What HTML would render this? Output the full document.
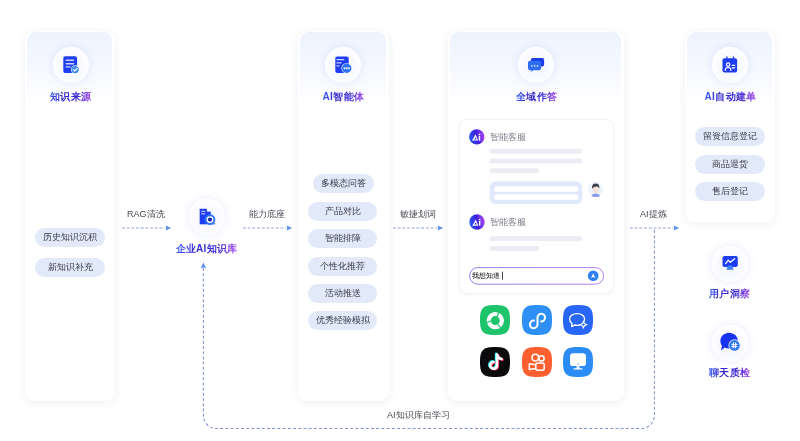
<!DOCTYPE html>
<html><head><meta charset="utf-8">
<style>
*{box-sizing:border-box;margin:0;padding:0}
html,body{width:800px;height:441px;background:#fff;overflow:hidden}
body{position:relative;font-family:"Liberation Sans",sans-serif;will-change:transform}
.card{position:absolute;border-radius:10px;border:solid #fff;border-width:1.2px 3px 3px 2.5px;background:linear-gradient(180deg,#eef3fe 0px,#f4f7ff 30px,#fbfcff 58px,#fff 72px) padding-box;box-shadow:0 2px 10px rgba(30,40,80,0.07)}
.circ{position:absolute;width:36px;height:36px;border-radius:50%;background:radial-gradient(circle at 50% 55%,#f3f5ff 0%,#f9faff 45%,#fff 72%);box-shadow:0 0 7px 2px rgba(125,145,235,0.12)}
.circ svg{position:absolute;left:0;top:0}
.title{position:absolute;font-size:10px;letter-spacing:0.25px;font-weight:bold;white-space:nowrap;background:linear-gradient(90deg,#3a5ef0 0%,#3429d0 28%,#3a2bd2 66%,#a545f0 100%);-webkit-background-clip:text;background-clip:text;color:transparent;line-height:12px}
.pill{position:absolute;height:19px;border-radius:10px;background:#e2eafa;font-size:9px;color:#353740;text-align:center;line-height:19px;white-space:nowrap}
.lbl{position:absolute;font-size:9px;color:#474a53;white-space:nowrap;line-height:11px}
svg{overflow:visible}
.app{position:absolute;width:30px;height:30px}
.app svg{position:absolute;left:0;top:0}
</style></head><body>

<!-- connectors -->
<svg width="800" height="441" style="position:absolute;left:0;top:0">
  <g stroke="#95a2dc" stroke-width="1.1" stroke-dasharray="2.8 1.9" fill="none">
    <line x1="122" y1="228" x2="165" y2="228"/>
    <line x1="243" y1="228" x2="286" y2="228"/>
    <line x1="393" y1="228" x2="437" y2="228"/>
    <line x1="630" y1="228" x2="673" y2="228"/>
  </g>
  <path d="M203.4 268 V415.5 A13 13 0 0 0 216.4 428.5 H641.4 A13 13 0 0 0 654.4 415.5 V229" stroke="#8793d6" stroke-width="1.05" stroke-dasharray="3 2.2" fill="none"/>
  <g fill="#5a8cf2">
    <path d="M165.7 225.5 L171.1 228 L165.7 230.5 L166.2 228 Z"/>
    <path d="M286.7 225.5 L292.1 228 L286.7 230.5 L287.2 228 Z"/>
    <path d="M437.7 225.5 L443.1 228 L437.7 230.5 L438.2 228 Z"/>
    <path d="M673.7 225.5 L679.1 228 L673.7 230.5 L674.2 228 Z"/>
    <path d="M200.6 268.5 L203.4 262.6 L206.2 268.5 L203.4 267.2 Z"/>
  </g>
</svg>

<!-- Card 1 -->
<div class="card" style="left:25.3px;top:31.3px;width:89.7px;height:369.7px"></div>
<div class="circ" style="left:52.5px;top:46.5px"><svg width="36" height="36" viewBox="0 0 36 36">
<rect x="10.3" y="9.3" width="13.8" height="16.8" rx="2.2" fill="#1e3df0"/>
<g stroke="#c9d2ff" stroke-width="1.4" stroke-linecap="round"><line x1="13.2" y1="13.2" x2="20.6" y2="13.2"/><line x1="13.2" y1="16.7" x2="20.6" y2="16.7"/><line x1="13.2" y1="19.9" x2="17" y2="19.9"/></g>
<circle cx="22.2" cy="22.6" r="4.3" fill="#fff" opacity="0.9"/><circle cx="22.2" cy="22.6" r="3.6" fill="#3d86f6"/>
<path d="M20.4 22.6 L21.8 24 L24.2 21.4" stroke="#fff" stroke-width="1.2" fill="none" stroke-linecap="round" stroke-linejoin="round"/>
</svg></div>
<div class="title" style="left:50px;top:90.7px">知识来源</div>
<div class="pill" style="left:35px;top:228px;width:70px">历史知识沉积</div>
<div class="pill" style="left:35px;top:257.5px;width:70px">新知识补充</div>

<!-- Card 2 -->
<div class="card" style="left:297.6px;top:31.3px;width:91px;height:369.7px"></div>
<div class="circ" style="left:324.5px;top:46.5px"><svg width="36" height="36" viewBox="0 0 36 36">
<rect x="10.3" y="9.5" width="13.4" height="16.4" rx="2" fill="#1e3df0"/>
<g stroke="#c9d2ff" stroke-width="1.3" stroke-linecap="round"><line x1="12" y1="12.7" x2="18.8" y2="12.7"/><line x1="12" y1="15.9" x2="16" y2="15.9"/><line x1="12" y1="18.9" x2="14" y2="18.9"/></g>
<circle cx="21.7" cy="21.3" r="5.4" fill="#fff" opacity="0.85"/><circle cx="21.7" cy="21.3" r="4.7" fill="#2f72f6"/>
<g fill="#fff"><rect x="18.7" y="20.4" width="1.6" height="1.8"/><rect x="21" y="20.4" width="1.6" height="1.8"/><rect x="23.3" y="20.4" width="1.6" height="1.8"/></g>
</svg></div>
<div class="title" style="left:322.5px;top:90.7px">A<span style="letter-spacing:0.7px">I</span>智能体</div>
<div class="pill" style="left:312.5px;top:174px;width:61px">多模态问答</div>
<div class="pill" style="left:308px;top:201.5px;width:69px">产品对比</div>
<div class="pill" style="left:308px;top:229px;width:69px">智能排障</div>
<div class="pill" style="left:308px;top:256.5px;width:69px">个性化推荐</div>
<div class="pill" style="left:308px;top:284px;width:69px">活动推送</div>
<div class="pill" style="left:308px;top:311px;width:69px">优秀经验模拟</div>

<!-- Card 3 -->
<div class="card" style="left:448.2px;top:31.3px;width:176.1px;height:369.7px"></div>
<div class="circ" style="left:518px;top:46.5px"><svg width="36" height="36" viewBox="0 0 36 36">
<rect x="12.9" y="10.9" width="13.2" height="8.6" rx="2" fill="#1a3ae6"/>
<path d="M12 13.8 H21 A2 2 0 0 1 23 15.8 V21.3 A2 2 0 0 1 21 23.3 H15.2 L13.2 25.1 V23.3 H12 A2 2 0 0 1 10 21.3 V15.8 A2 2 0 0 1 12 13.8 Z" fill="#2e6ef2"/>
<g fill="#e6efff"><circle cx="13.8" cy="18.9" r="0.8"/><circle cx="16.6" cy="18.9" r="0.8"/><circle cx="19.4" cy="18.9" r="0.8"/></g>
</svg></div>
<div class="title" style="left:516px;top:91.2px">全域作答</div>

<!-- chat panel -->
<div style="position:absolute;left:459px;top:119px;width:155px;height:175px;border-radius:8px;background:#fff;border:1px solid #f1f2f6;box-shadow:0 1px 4px rgba(40,50,100,0.04)"></div>
<svg width="800" height="441" style="position:absolute;left:0;top:0">
  <defs>
    <linearGradient id="aig" x1="0" y1="0.6" x2="1" y2="0.4">
      <stop offset="0" stop-color="#2a5cf6"/><stop offset="0.5" stop-color="#3b1fe0"/><stop offset="1" stop-color="#b246f2"/>
    </linearGradient>
    <linearGradient id="inb" x1="0" y1="0" x2="1" y2="0">
      <stop offset="0" stop-color="#8c84e6"/><stop offset="1" stop-color="#b47ff0"/>
    </linearGradient>
    <g id="ailogo">
      <circle cx="0" cy="0" r="7.7" fill="url(#aig)"/>
      <path d="M-4.7 3.7 L-1.2 -2.6 L1.3 3.7 Z M-2.6 2.6 L-0.2 2.6 L-1.3 0.3 Z" fill="#fff" fill-rule="evenodd"/>
      <rect x="1.9" y="-1.2" width="1.5" height="4.9" fill="#fff"/><rect x="1.9" y="-3.2" width="1.5" height="1.3" fill="#fff"/>
    </g>
  </defs>
  <use href="#ailogo" x="476.8" y="136.9"/>
  <use href="#ailogo" x="477" y="222"/>
  <g fill="#ebedf2">
    <rect x="489.5" y="148.7" width="92.5" height="5" rx="2.5"/>
    <rect x="489.5" y="158.5" width="92.5" height="5" rx="2.5"/>
    <rect x="489.5" y="168.3" width="50" height="5" rx="2.5"/>
    <rect x="489.5" y="236.3" width="92.5" height="5" rx="2.5"/>
    <rect x="489.5" y="246" width="50" height="5" rx="2.5"/>
  </g>
  <rect x="489.7" y="181.2" width="92.5" height="22.7" rx="6" fill="#dfe9fb"/>
  <rect x="494.2" y="186.3" width="84" height="5.8" rx="2.9" fill="#fff"/>
  <rect x="494.2" y="194.3" width="84" height="5.8" rx="2.9" fill="#fff"/>
  <!-- user avatar -->
  <circle cx="595.7" cy="189.2" r="7.5" fill="#eef4fd"/>
  <path d="M591.3 196.3 Q592 193.6 595.7 193.4 Q599.4 193.6 600.1 196.3 Q598 197 595.7 197 Q593.4 197 591.3 196.3 Z" fill="#8a98e8"/>
  <ellipse cx="595.7" cy="189.6" rx="3.2" ry="3.6" fill="#f6e2d8"/>
  <path d="M592 188.8 Q591.6 183.6 595.7 183.6 Q599.8 183.6 599.4 188.8 Q598.6 186.6 596.6 186.6 Q594.2 186.4 592 188.8 Z" fill="#3d3f4a"/>
  <!-- input -->
  <rect x="469.6" y="267.6" width="134" height="16.6" rx="8.3" fill="#fff" stroke="url(#inb)" stroke-width="1"/>
  <circle cx="593.2" cy="275.8" r="5.3" fill="#2f7ff6"/>
  <path d="M591 277.9 L593.2 273.3 L595.4 277.9 L593.2 276.9 Z" fill="#fff"/>
  <rect x="502" y="271.6" width="0.9" height="8" fill="#333"/>
</svg>
<div class="lbl" style="left:489.5px;top:131.5px;color:#7a7d88;font-size:9px">智能客服</div>
<div class="lbl" style="left:489.5px;top:216.5px;color:#7a7d88;font-size:9px">智能客服</div>
<div class="lbl" style="left:472.3px;top:270.5px;color:#000;font-size:7px;line-height:9px">我想知道</div>

<!-- app icons -->
<svg width="0" height="0" style="position:absolute">
  <defs><path id="sq" d="M15 0 C27 0 30 3 30 15 C30 27 27 30 15 30 C3 30 0 27 0 15 C0 3 3 0 15 0 Z"/></defs>
</svg>
<div class="app" style="left:480px;top:305px"><svg width="30" height="30" viewBox="0 0 30 30">
<use href="#sq" fill="#1ec46b"/>
<circle cx="15.3" cy="15.6" r="6.6" fill="none" stroke="#fff" stroke-width="4.2"/>
<g stroke="#1ec46b" stroke-width="1.3" stroke-linecap="butt" fill="none">
<path d="M10.9 15.9 Q8.2 16.6 5.6 18.8"/>
<path d="M17.3 11.6 Q18.5 9.3 18.6 6.2"/>
<path d="M17.7 19.4 Q19.3 21.6 21.8 23.2"/>
</g></svg></div>
<div class="app" style="left:521.5px;top:305px"><svg width="30" height="30" viewBox="0 0 30 30">
<use href="#sq" fill="#2e8ff6"/>
<path d="M19 16.4 A3.8 3.8 0 1 0 15.5 12.6 V19.4 A3.8 3.8 0 1 1 12 15.6" stroke="#fff" stroke-width="2" fill="none" stroke-linecap="round"/>
</svg></div>
<div class="app" style="left:563px;top:305px"><svg width="30" height="30" viewBox="0 0 30 30">
<use href="#sq" fill="#2866f5"/>
<path d="M20.6 16.8 C21.3 15.9 21.6 15 21.6 14 C21.6 10.8 18.3 8.6 14.1 8.6 C9.9 8.6 6.6 10.8 6.6 14 C6.6 15.8 7.5 17.4 9 18.5 L8.6 21.6 L11.6 20 C12.4 20.2 13.2 20.3 14.1 20.3 C15 20.3 15.9 20.2 16.7 20" stroke="#fff" stroke-width="1.3" fill="none" stroke-linecap="round" stroke-linejoin="round"/>
<path d="M20.4 16 Q20.7 19.3 24 19.6 Q20.7 19.9 20.4 23.2 Q20.1 19.9 16.8 19.6 Q20.1 19.3 20.4 16 Z" stroke="#fff" stroke-width="1.1" fill="none" stroke-linejoin="round"/>
</svg></div>
<div class="app" style="left:480px;top:346.5px"><svg width="30" height="30" viewBox="0 0 30 30">
<use href="#sq" fill="#0b0b0d"/>
<g fill="none" stroke-width="2.6" stroke-linecap="round">
<path d="M17 7.5 V18 C17 20.2 15.5 21.7 13.6 21.7 C11.7 21.7 10.2 20.2 10.2 18.3 C10.2 16.4 11.7 15 13.6 15 M17.2 8 C17.8 10.5 19.4 11.8 21.6 12" stroke="#25f4ee" transform="translate(-0.9,-0.6)"/>
<path d="M17 7.5 V18 C17 20.2 15.5 21.7 13.6 21.7 C11.7 21.7 10.2 20.2 10.2 18.3 C10.2 16.4 11.7 15 13.6 15 M17.2 8 C17.8 10.5 19.4 11.8 21.6 12" stroke="#fe2c55" transform="translate(0.9,0.6)"/>
<path d="M17 7.5 V18 C17 20.2 15.5 21.7 13.6 21.7 C11.7 21.7 10.2 20.2 10.2 18.3 C10.2 16.4 11.7 15 13.6 15 M17.2 8 C17.8 10.5 19.4 11.8 21.6 12" stroke="#fff"/>
</g></svg></div>
<div class="app" style="left:521.5px;top:346.5px"><svg width="30" height="30" viewBox="0 0 30 30">
<use href="#sq" fill="#fe5f30"/>
<g stroke="#fff" stroke-width="1.5" fill="none" stroke-linejoin="round">
<circle cx="13.3" cy="10.6" r="3.3"/><circle cx="19.5" cy="11.4" r="2.6"/>
<rect x="13.8" y="16" width="8.4" height="7.3" rx="2"/>
<path d="M13.8 17.8 L7.3 16.8 V22.6 L13.8 21.4"/>
</g></svg></div>
<div class="app" style="left:563px;top:347px"><svg width="30" height="30" viewBox="0 0 30 30">
<use href="#sq" fill="#2b8cf6"/>
<rect x="7" y="6.3" width="16" height="12.8" rx="3.2" fill="#fff"/>
<path d="M13.6 19 H16.4 V21.3 H19.4 V22.4 H10.6 V21.3 H13.6 Z" fill="#fff"/>
<circle cx="15.3" cy="17" r="0.7" fill="#5aa0f5"/>
</svg></div>

<!-- Card 4 -->
<div class="card" style="left:684.5px;top:31.3px;width:90px;height:191.2px"></div>
<div class="circ" style="left:711.5px;top:46.5px"><svg width="36" height="36" viewBox="0 0 36 36">
<rect x="10.5" y="11.3" width="14.6" height="14.2" rx="2" fill="#1e3df0"/>
<g stroke="#1e3df0" stroke-width="1.3" stroke-linecap="round"><line x1="14.9" y1="9.9" x2="14.9" y2="12.5"/><line x1="21.5" y1="9.9" x2="21.5" y2="12.5"/></g>
<g stroke="#fff" stroke-width="1.2" fill="none" stroke-linecap="round"><circle cx="16.1" cy="17.6" r="1.7"/><path d="M13.3 23.3 A2.8 2.8 0 0 1 18.9 23.3"/><line x1="20.2" y1="18.3" x2="22.8" y2="18.3"/><line x1="20.2" y1="20.8" x2="22.8" y2="20.8"/></g>
</svg></div>
<div class="title" style="left:704.5px;top:91.2px">A<span style="letter-spacing:0.7px">I</span>自动建单</div>
<div class="pill" style="left:695px;top:127px;width:70px">留资信息登记</div>
<div class="pill" style="left:695px;top:154.5px;width:70px">商品退货</div>
<div class="pill" style="left:695px;top:181.5px;width:70px">售后登记</div>

<!-- knowledge base node -->
<div class="circ" style="left:189px;top:199px"><svg width="36" height="36" viewBox="0 0 36 36">
<rect x="10.7" y="9.7" width="7.2" height="15.3" rx="0.6" fill="#1e3df0"/>
<rect x="17.2" y="12.6" width="4.6" height="12.4" fill="#1e3df0"/>
<g stroke="#c9d2ff" stroke-width="1.1"><line x1="12.3" y1="12.3" x2="16.2" y2="12.3"/><line x1="12.3" y1="14.8" x2="16.2" y2="14.8"/></g>
<rect x="10.7" y="24.4" width="15.5" height="0.9" fill="#1e3df0"/>
<circle cx="21" cy="20.6" r="5.3" fill="#2f72f6"/>
<circle cx="21" cy="20.6" r="3.4" fill="#fff"/>
<circle cx="21" cy="20.6" r="2.1" fill="#1c2a9a"/>
</svg></div>
<div class="title" style="left:175.5px;top:242.9px">企业A<span style="letter-spacing:0.7px">I</span>知识库</div>

<!-- right nodes -->
<div class="circ" style="left:711.5px;top:246px"><svg width="36" height="36" viewBox="0 0 36 36">
<rect x="10.5" y="10" width="15.3" height="10.9" rx="2" fill="#1e3df0"/>
<path d="M14.4 23.8 L16 19.5 L20 19.5 L21.6 23.8 Z" fill="#3b82f6"/>
<path d="M13.6 17.6 L16.3 14.2 L18.3 16.3 L22.6 12.7" stroke="#fff" stroke-width="1.3" fill="none" stroke-linecap="round" stroke-linejoin="round"/>
</svg></div>
<div class="title" style="left:709px;top:288.4px">用户洞察</div>
<div class="circ" style="left:711.5px;top:324.5px"><svg width="36" height="36" viewBox="0 0 36 36">
<path d="M17.1 7.7 C22 7.7 25.8 11.3 25.8 15.8 C25.8 20.3 22 23.5 17.1 23.5 C15.5 23.5 14 23.2 12.7 22.6 L9 25.5 L10 21 C8.9 19.5 8.4 17.7 8.4 15.8 C8.4 11.3 12.2 7.7 17.1 7.7 Z" fill="#1733ee"/>
<circle cx="22.5" cy="20.4" r="6.1" fill="#fff" opacity="0.85"/>
<circle cx="22.5" cy="20.4" r="5.3" fill="#2f78f5"/>
<g stroke="#fff" stroke-width="1" stroke-linecap="round"><line x1="21.4" y1="17.8" x2="21.1" y2="23"/><line x1="23.7" y1="17.8" x2="23.4" y2="23"/><line x1="19.9" y1="19.4" x2="25.1" y2="19.4"/><line x1="19.8" y1="21.5" x2="25" y2="21.5"/></g>
</svg></div>
<div class="title" style="left:709px;top:367.2px">聊天质检</div>

<!-- labels -->
<div class="lbl" style="left:127px;top:209px">RAG清洗</div>
<div class="lbl" style="left:249px;top:209px">能力底座</div>
<div class="lbl" style="left:400px;top:209px">敏捷划词</div>
<div class="lbl" style="left:640px;top:209px">AI提炼</div>
<div class="lbl" style="left:387px;top:410px">AI知识库自学习</div>

</body></html>
